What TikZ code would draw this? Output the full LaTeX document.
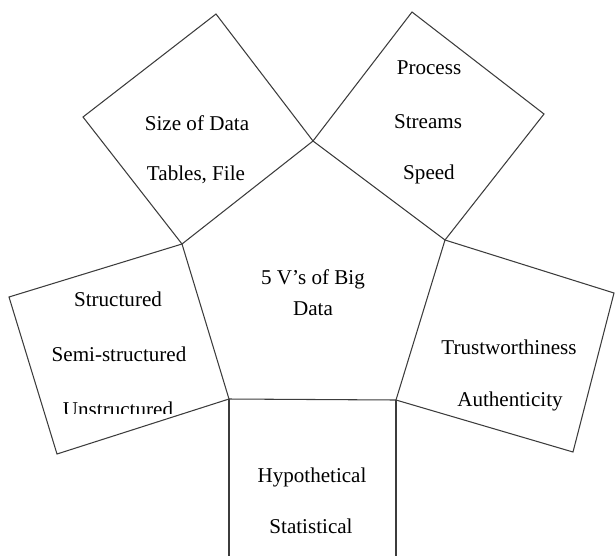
\documentclass[tikz,border=0pt]{standalone}
\usepackage{fontspec}
\setmainfont{Liberation Serif}
\definecolor{E1}{RGB}{60,60,60}

\begin{document}
\begin{tikzpicture}[x=0.02cm, y=-0.02cm]
      \tikzset{edge/.style={E1, line width=0.6pt},
               lbl/.style={anchor=base, inner sep=0pt, font=\fontsize{12}{14}\selectfont}}
      \useasboundingbox (0,0) rectangle (615,555);
      \clip (0,0) rectangle (615,555);
      % corners of the pentagon
      \coordinate (p1) at (313,141);
      \coordinate (p2) at (445,240);
      \coordinate (p3) at (396,400);
      \coordinate (p4) at (229,399);
      \coordinate (p5) at (182,244);
      \draw[edge] (p1)--(p2)--(p3)--(p4)--(p5)--cycle;
      % one box on each side
      \draw[edge] (p5)--(83,117)--(216,14)--(p1);
      \draw[edge] (p1)--(412,12)--(544,114)--(p2);
      \draw[edge] (p2)--(614,293)--(573,452)--(p3);
      \draw[edge] (p4)--(57,454)--(9,297)--(p5);
      \draw[edge] (p4)--(229,560) (p3)--(396,560);
      % texts
      \draw (313,284) node[lbl] (core1) {5 V's of Big};
      \draw (313,315) node[lbl] (core2) {Data};
      \draw (197,130) node[lbl] (vol1) {Size of Data};
      \draw (196,180) node[lbl] (vol2) {Tables, File};
      \draw (429,74) node[lbl] (vel1) {Process};
      \draw (428,128) node[lbl] (vel2) {Streams};
      \draw (429,179) node[lbl] (vel3) {Speed};
      \draw (118,306) node[lbl] (var1) {Structured};
      \draw (119,361) node[lbl] (var2) {Semi-structured};
      \begin{scope}
        \clip (0,0) rectangle (615,413);
        \draw (118,416) node[lbl] (var3) {Unstructured};
      \end{scope}
      \draw (509,354) node[lbl] (ver1) {Trustworthiness};
      \draw (510,406) node[lbl] (ver2) {Authenticity};
      \draw (312,482) node[lbl] (val1) {Hypothetical};
      \draw (311,533) node[lbl] (val2) {Statistical};
    \end{tikzpicture}
\end{document}
